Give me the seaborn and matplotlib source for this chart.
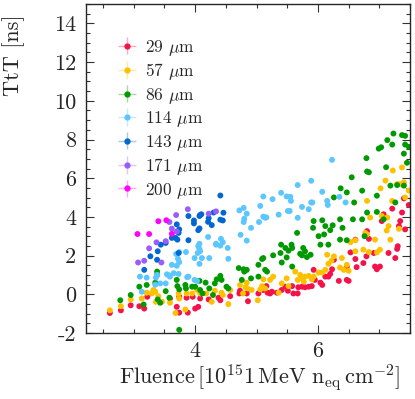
import matplotlib
matplotlib.use("Agg")
import matplotlib.pyplot as plt
import seaborn as sns
import pandas as pd
import numpy as np

# thickness labels and colours
thickness = ["29", "57", "86", "114", "143", "171", "200"]
colors = ["#f5114a", "#ffc000", "#009a00", "#5cc6ff", "#0066d2", "#9b5cff", "#ff00ff"]

# fluence [1e15 neq/cm2] and time-to-threshold [ns]
fluence_29 = [2.61, 2.79, 2.95, 3.09, 3.17, 3.22, 3.59, 3.70, 3.74, 3.74, 3.86, 3.88, 3.96, 4.00, 4.05, 4.08,
              4.22, 4.38, 4.41, 4.57, 4.72, 4.73, 4.84, 4.86, 5.03, 5.11, 5.16, 5.18, 5.22, 5.25, 5.33, 5.41,
              5.47, 5.51, 5.58, 5.60, 5.67, 5.68, 5.74, 5.79, 5.85, 5.90, 5.93, 5.95, 6.04, 6.07, 6.12, 6.17,
              6.20, 6.23, 6.26, 6.34, 6.47, 6.47, 6.50, 6.53, 6.61, 6.63, 6.61, 6.74, 6.79, 6.80, 6.83, 6.91,
              6.93, 6.96, 7.01, 7.04, 7.07, 7.15, 7.21, 7.26, 7.29, 7.30, 7.32, 7.34, 7.37, 7.40, 7.42, 7.48]
ttt_29 = [-0.96, -0.82, -0.56, -0.61, -0.73, -0.12, -0.21, -0.64, -0.94, -0.12, -0.17, -0.94, -0.12, -0.73, -0.64, -0.21,
          -0.26, -0.17, -0.30, -0.09, 0.05, 0.19, 0.05, -0.35, 0.05, 0.23, 0.43, 0.09, 0.05, 0.14, 0.09, 0.23,
          0.40, 0.19, 0.43, 0.05, 0.05, 0.37, 0.40, 0.37, 0.40, 0.43, 1.27, 0.75, 0.61, 0.49, 0.92, 0.92,
          1.06, 1.30, 1.79, 0.70, 1.44, 0.75, 0.70, 2.17, 1.83, 1.41, 2.83, 1.62, 1.97, 3.27, 2.87, 2.14,
          1.44, 1.30, 1.44, 3.79, 4.14, 2.14, 4.43, 1.88, 2.35, 2.49, 3.53, 3.79, 4.23, 4.96, 3.36, 4.62]

fluence_57 = [2.61, 2.79, 2.95, 3.13, 3.21, 3.29, 3.32, 3.35, 3.36, 3.40, 3.46, 3.59, 3.68, 3.73, 3.74, 3.84,
              3.86, 3.95, 4.03, 4.08, 4.18, 4.27, 4.32, 4.43, 4.45, 4.54, 4.57, 4.73, 4.78, 4.82, 4.84, 4.85,
              4.92, 5.02, 5.06, 5.09, 5.11, 5.14, 5.22, 5.27, 5.36, 5.41, 5.49, 5.52, 5.63, 5.67, 5.71, 5.74,
              5.77, 5.79, 5.85, 5.90, 5.93, 6.01, 6.07, 6.12, 6.15, 6.17, 6.22, 6.26, 6.36, 6.39, 6.42, 6.47,
              6.50, 6.53, 6.61, 6.61, 6.74, 6.77, 6.80, 6.83, 6.80, 6.85, 6.93, 6.96, 7.01, 7.02, 7.04, 7.10,
              7.12, 7.13, 7.15, 7.18, 7.21, 7.22, 7.29, 7.32, 7.34, 7.37, 7.40, 7.42, 7.48]
ttt_57 = [-0.82, -0.61, -0.26, -0.21, 0.09, 0.05, 0.23, 0.14, -0.38, -0.09, -0.38, -0.43, -0.96, 0.05, -0.21, -0.78,
          0.05, 0.05, 0.23, 0.05, 0.05, -0.38, 0.19, 0.09, -0.03, -0.50, 0.23, 0.49, 0.05, 0.37, 0.61, 0.31,
          0.23, -0.30, 0.26, 0.43, 0.78, 0.31, 0.75, 0.92, 0.09, 0.57, 0.83, 0.43, 1.18, 0.75, 1.01, 0.83,
          0.66, 0.92, 0.96, 0.78, 0.92, 1.13, 1.13, 1.27, 2.05, 1.58, 1.74, 1.97, 1.39, 1.88, 1.27, 1.53,
          1.22, 2.70, 2.80, 2.23, 2.31, 3.18, 3.10, 2.19, 4.83, 3.97, 2.83, 2.17, 2.31, 5.48, 4.05, 5.88,
          3.30, 3.97, 3.53, 2.83, 4.83, 6.40, 5.70, 3.39, 5.70, 6.56, 5.79, 5.01, 5.36]

fluence_86 = [2.78, 2.95, 3.09, 3.16, 3.21, 3.35, 3.38, 3.38, 3.39, 3.43, 3.52, 3.58, 3.70, 3.71, 3.74, 3.74,
              3.84, 3.85, 3.95, 4.00, 4.07, 4.08, 4.12, 4.17, 4.23, 4.29, 4.32, 4.35, 4.41, 4.43, 4.51, 4.54,
              4.71, 4.76, 4.79, 4.80, 4.84, 4.91, 5.03, 5.03, 5.09, 5.11, 5.14, 5.17, 5.27, 5.39, 5.40, 5.41,
              5.47, 5.49, 5.52, 5.57, 5.58, 5.58, 5.66, 5.71, 5.74, 5.76, 5.79, 5.82, 5.88, 5.92, 5.93, 6.01,
              6.04, 6.07, 6.12, 6.10, 6.17, 6.20, 6.24, 6.26, 6.36, 6.36, 6.37, 6.40, 6.47, 6.47, 6.55, 6.57,
              6.59, 6.72, 6.76, 6.79, 6.80, 6.83, 6.80, 6.72, 6.96, 6.96, 6.99, 7.03, 7.07, 7.11, 7.13, 7.18,
              7.21, 7.23, 7.26, 7.29, 7.37, 7.42, 7.40, 7.42, 7.45, 7.48, 7.40]
ttt_86 = [-0.30, -0.03, 0.40, -0.52, 0.49, 0.61, 1.18, 1.01, -0.26, -0.43, 0.17, -0.17, 0.75, 0.43, -1.83, 0.26,
          0.49, 0.31, 0.40, 0.40, 0.70, 0.23, 0.05, 0.61, 0.31, -0.03, 0.57, 0.78, 0.96, 0.75, 0.40, 0.31,
          1.36, 0.75, 1.30, 1.18, 1.27, 0.83, 1.53, 0.92, 1.83, 1.88, 1.27, 1.18, 2.02, 2.14, 2.57, 1.65,
          2.40, 1.91, 2.26, 2.57, 2.40, 1.44, 3.18, 2.10, 2.02, 2.40, 2.23, 1.93, 2.05, 3.44, 3.79, 3.01,
          2.57, 3.83, 3.53, 3.10, 2.57, 3.32, 3.57, 5.01, 2.83, 3.88, 5.48, 3.44, 5.27, 2.80, 6.05, 3.88,
          4.75, 5.36, 3.01, 7.04, 6.35, 6.31, 4.23, 3.88, 5.10, 4.26, 7.53, 7.60, 3.88, 6.57, 7.97, 5.62,
          7.74, 8.31, 4.75, 5.65, 8.23, 8.19, 7.27, 7.74, 6.80, 7.62, 5.62]

fluence_114 = [3.10, 3.13, 3.21, 3.35, 3.36, 3.38, 3.43, 3.52, 3.54, 3.57, 3.59, 3.62, 3.65, 3.69, 3.70, 3.72,
               3.73, 3.74, 3.74, 3.85, 3.87, 3.89, 3.99, 3.99, 4.03, 4.04, 4.05, 4.07, 4.07, 4.07, 4.08, 4.11,
               4.21, 4.23, 4.34, 4.34, 4.41, 4.42, 4.45, 4.53, 4.54, 4.72, 4.74, 4.79, 4.79, 4.80, 4.84, 4.84,
               4.91, 5.04, 5.06, 5.11, 5.11, 5.14, 5.16, 5.26, 5.36, 5.40, 5.49, 5.51, 5.54, 5.55, 5.56, 5.67,
               5.67, 5.74, 5.85, 5.89, 5.89, 5.91, 6.07, 6.15, 6.16, 6.23, 6.35, 6.45]
ttt_114 = [0.92, 0.14, 0.87, 0.50, 0.87, 1.01, 0.57, 0.57, 1.04, 0.99, 0.92, 1.53, 1.10, 2.09, 1.48, 1.84,
           1.06, 1.67, 2.19, 2.19, 0.89, 0.92, 0.75, 1.88, 0.70, 2.14, 2.49, 2.35, 1.58, 2.62, 2.23, 1.88,
           2.97, 1.88, 2.62, 2.57, 2.52, 2.87, 2.70, 2.40, 1.84, 4.34, 3.08, 4.47, 3.74, 3.91, 4.17, 2.78,
           3.44, 3.74, 4.57, 4.02, 5.06, 3.96, 3.98, 4.92, 4.12, 5.25, 5.06, 4.31, 4.31, 5.04, 4.83, 5.65,
           3.96, 4.52, 4.40, 4.75, 5.87, 4.75, 5.30, 4.83, 4.62, 6.95, 5.04, 4.75]

fluence_143 = [3.17, 3.27, 3.38, 3.39, 3.44, 3.52, 3.62, 3.68, 3.70, 3.71, 3.73, 3.73, 3.74, 3.89, 3.89, 3.98,
               3.98, 4.05, 4.07, 4.07, 4.08, 4.10, 4.21, 4.22, 4.27, 4.30, 4.41, 4.41, 4.45, 4.46]
ttt_143 = [1.27, 1.97, 1.79, 2.23, 2.57, 2.66, 2.92, 2.92, 3.62, 2.83, 3.18, 2.14, 3.36, 4.05, 2.80, 3.82,
           3.67, 3.32, 3.41, 4.05, 4.10, 4.14, 3.75, 3.94, 3.58, 4.23, 5.11, 3.86, 3.82, 4.22]

fluence_171 = [3.07, 3.17, 3.25, 3.37, 3.45, 3.52, 3.58, 3.62, 3.69, 3.70, 3.88, 4.22, 4.34]
ttt_171 = [1.65, 1.74, 2.38, 2.69, 1.65, 2.75, 3.74, 3.40, 4.10, 3.25, 4.40, 4.17, 4.29]

fluence_200 = [3.06, 3.25, 3.40, 3.53, 3.62]
ttt_200 = [3.12, 3.12, 3.78, 3.83, 3.13]

fluences = [fluence_29, fluence_57, fluence_86, fluence_114, fluence_143, fluence_171, fluence_200]
ttts = [ttt_29, ttt_57, ttt_86, ttt_114, ttt_143, ttt_171, ttt_200]

df = pd.concat([pd.DataFrame({"fluence": f, "ttt": t, "thickness": th})
                for f, t, th in zip(fluences, ttts, thickness)], ignore_index=True)

sns.set_style("ticks")
plt.rcParams["font.family"] = ["cmr10", "DejaVu Serif"]
plt.rcParams["mathtext.fontset"] = "cm"
plt.rcParams["axes.unicode_minus"] = False

fig = plt.figure(figsize=(4.15, 3.99), dpi=100)
ax = fig.add_axes([0.207, 0.165, 0.781, 0.825])

sns.scatterplot(data=df, x="fluence", y="ttt", hue="thickness", hue_order=thickness,
                palette=dict(zip(thickness, colors)), s=18, linewidth=0, legend=False, ax=ax)

# legend handles in the style of error-bar markers
handles = []
for th, c in zip(thickness, colors):
    h = ax.errorbar([np.nan], [np.nan], xerr=[0.1], yerr=[0.1], fmt="o", ms=3.5, color=c,
                    ecolor=matplotlib.colors.to_rgba(c, 0.35), elinewidth=1, label=th + r" $\mu$m")
    handles.append(h)
ax.legend(handles=handles, loc="upper left", bbox_to_anchor=(0.055, 0.945), frameon=False,
          fontsize=12.5, handlelength=0.9, handletextpad=0.6, labelspacing=0.2)

ax.set_xlim(2.22, 7.5)
ax.set_ylim(-2, 15)
ax.xaxis.set_major_locator(matplotlib.ticker.MultipleLocator(2))
ax.xaxis.set_minor_locator(matplotlib.ticker.MultipleLocator(0.5))
ax.yaxis.set_major_locator(matplotlib.ticker.MultipleLocator(2))
ax.yaxis.set_minor_locator(matplotlib.ticker.MultipleLocator(0.5))
ax.tick_params(which="both", direction="in", top=True, right=True, labelsize=16, width=0.8, color="#333333")
ax.tick_params(which="major", length=6)
ax.tick_params(which="minor", length=3)
ax.tick_params(axis="x", pad=6)
ax.tick_params(axis="y", pad=7)
for sp in ax.spines.values():
    sp.set_linewidth(1.0)

ax.set_xlabel(r"Fluence$\,[10^{15}1\,\mathrm{MeV}\ \mathrm{n}_{\mathrm{eq}}\,\mathrm{cm}^{-2}]$",
              fontsize=16, loc="right")
ax.set_ylabel("TtT [ns]", fontsize=16, loc="top")
ax.xaxis.set_label_coords(0.97, -0.088)
ax.yaxis.set_label_coords(-0.188, 0.967)

fig.savefig("out.png", dpi=100)
